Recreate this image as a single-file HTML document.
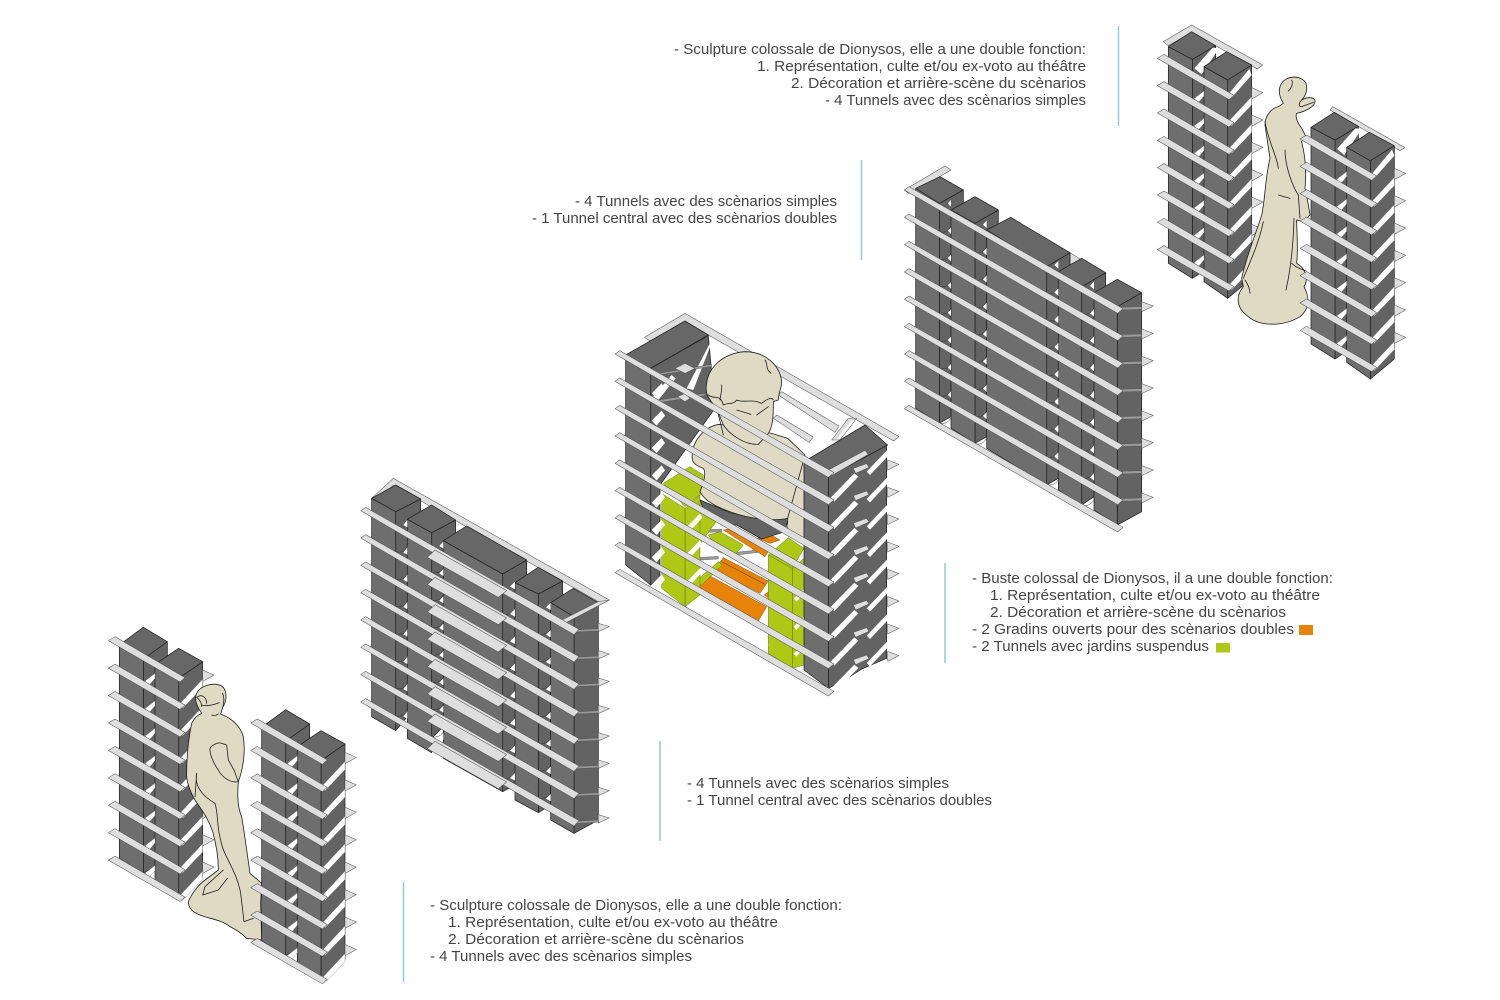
<!DOCTYPE html>
<html lang="fr">
<head>
<meta charset="utf-8">
<title>Diagramme</title>
<style>
html,body{margin:0;padding:0;background:#fff}
svg{display:block}
text{font-family:"Liberation Sans",sans-serif;font-size:15px;fill:#444}
.l{fill:#6e6e6e;stroke:#222;stroke-width:2.2;stroke-linejoin:round}
.r{fill:#636363;stroke:#222;stroke-width:2.2;stroke-linejoin:round}
.t{fill:#676767;stroke:#222;stroke-width:2.2;stroke-linejoin:round}
.s{fill:#dedede;stroke:#555;stroke-width:1.6;stroke-linejoin:round}
.w{fill:#fff;stroke:#666;stroke-width:1;stroke-linejoin:round}
.ww{fill:#fff;stroke:none}
.g{fill:#adc916;stroke:#55620c;stroke-width:1.2;stroke-linejoin:round}
.o{fill:#e8830a;stroke:#6b3c05;stroke-width:1.2;stroke-linejoin:round}
.st{fill:#dedac4;stroke:#1d1d1d;stroke-width:2.4;stroke-linejoin:round}
.n{fill:none;stroke:#1d1d1d;stroke-width:2.4;stroke-linecap:round;stroke-linejoin:round}
.h{fill:none;stroke:#2a2a2a;stroke-width:1.4}
.b{fill:#9a9a9a;stroke:#444;stroke-width:1}
</style>
</head>
<body>
<svg xmlns="http://www.w3.org/2000/svg" width="1500" height="1000" viewBox="0 0 1500 1000">
<defs>
  <!-- Towers, groups 1 and 5 -->
  <polygon id="a1" class="s" points="55,92 75,80 285,203 270,216"/>
  <g id="a2">
    <polygon class="w" points="165,131 195,108 195,123 178,143"/>
    <polygon class="s" points="338,98 372,113 338,132"/>
    <polygon class="w" points="268,200 338,125 338,150 278,213"/>
    <use href="#a1"/>
  </g>
  <g id="tower1">
    <polygon class="r" points="160,147 232,95 232,750 160,790"/>
    <polygon class="l" points="88,105 160,147 160,790 88,745"/>
    <polygon class="t" points="88,105 160,52 232,95 160,147"/>
    <polygon class="r" points="266,205 338,155 338,800 266,868"/>
    <polygon class="l" points="195,163 266,205 266,868 195,815"/>
    <polygon class="t" points="195,163 266,115 338,155 266,205"/>
    <use href="#a1"/>
    <use href="#a2" y="82.3"/>
    <use href="#a2" y="164.6"/>
    <use href="#a2" y="246.9"/>
    <use href="#a2" y="329.2"/>
    <use href="#a2" y="411.5"/>
    <use href="#a2" y="493.8"/>
    <use href="#a2" y="576.1"/>
    <use href="#a2" y="658.4"/>
  </g>
  <g id="tower5">
    <polygon class="r" points="127,133 197,92 197,745 127,790"/>
    <polygon class="l" points="55,95 127,133 127,790 55,745"/>
    <polygon class="t" points="55,95 125,50 197,92 127,133"/>
    <polygon class="ww" points="133,160 188,98 207,100 155,178"/>
    <polygon class="r" points="233,195 305,150 305,790 233,850"/>
    <polygon class="l" points="162,155 233,195 233,850 162,800"/>
    <polygon class="t" points="162,155 230,110 305,150 233,195"/>
    <polygon class="ww" points="240,232 298,162 305,180 250,242"/>
    <g transform="translate(-33,38)">
      <use href="#a1"/>
      <use href="#a2" y="82"/>
      <use href="#a2" y="164"/>
      <use href="#a2" y="246"/>
      <use href="#a2" y="328"/>
      <use href="#a2" y="410"/>
      <use href="#a2" y="492"/>
      <use href="#a2" y="574"/>
    </g>
  </g>

  <!-- Group 2 level -->
  <polygon id="b1" class="s" points="32,122 47,112 687,478 672,494"/>
  <g id="bs">
    <path class="h" d="M137,245 Q158,252 172,232 M245,308 Q265,314 280,295 M458,432 Q478,438 495,418 M565,492 Q585,498 602,478"/>
  </g>
  <g id="b2">
    <polygon class="ww" points="160,165 172,150 172,172"/>
    <polygon class="ww" points="268,228 280,215 280,236"/>
    <polygon class="ww" points="480,350 495,335 495,358"/>
    <polygon class="ww" points="588,412 602,398 602,420"/>
    <polygon class="s" points="745,460 778,470 745,485"/>
    <polygon class="b" points="672,480 745,476 745,483 680,486"/>
    <use href="#b1"/>
    <polygon class="s" points="232,262 255,240 470,362 445,382"/>
  </g>

  <!-- Group 4 level -->
  <polygon id="d1" class="s" points="28,90 42,80 684,446 668,460"/>
  <g id="d2">
    <polygon class="ww" points="158,130 168,120 168,140"/>
    <polygon class="ww" points="264,194 275,182 275,204"/>
    <polygon class="ww" points="478,315 490,303 490,326"/>
    <polygon class="ww" points="585,378 597,365 597,388"/>
    <path class="h" d="M133,215 Q155,222 168,200 M240,277 Q260,284 275,262 M455,400 Q475,406 490,386 M560,462 Q580,468 597,447"/>
    <polygon class="s" points="740,425 775,438 740,455"/>
    <polygon class="b" points="668,442 740,440 740,448 676,450"/>
    <use href="#d1"/>
  </g>

  <!-- Group 3 levels -->
  <polygon id="c1" class="s" points="30,147 44,137 687,503 670,517"/>
  <g id="c2">
    <polygon class="ww" points="140,183 170,153 180,168 155,198"/>
    <polygon class="s" points="745,408 785,394 792,405 752,423"/>
    <polygon class="ww" points="675,498 748,423 760,433 688,508"/>
    <polygon class="ww" points="785,418 848,352 848,372 795,428"/>
    <polygon class="s" points="848,383 882,396 848,413"/>
    <use href="#c1"/>
  </g>
</defs>

<!-- Teal rules -->
<g stroke="#8ccfd1" stroke-width="1.5">
  <line x1="1118.5" y1="26" x2="1118.5" y2="126"/>
  <line x1="861.5" y1="160" x2="861.5" y2="260"/>
  <line x1="945" y1="563" x2="945" y2="663"/>
  <line x1="660" y1="741" x2="660" y2="841"/>
  <line x1="403.5" y1="882" x2="403.5" y2="982"/>
</g>

<!-- Group 1 -->
<g transform="translate(90,610) scale(.33333)">
  <use href="#tower1"/>
  <path class="st" d="M335,310 C318,285 312,265 320,250 C330,228 370,215 395,228 C412,240 412,270 398,292 L392,312 C425,325 450,345 460,380 C466,420 462,470 445,515 C442,555 442,590 455,620 C462,660 470,720 480,790 L515,820 L512,880 L515,990 L470,985 C455,970 440,960 420,950 C390,925 340,925 320,910 C305,905 295,890 295,875 C305,850 325,825 345,810 L385,780 C385,740 378,700 368,665 C355,625 335,600 315,570 C300,545 288,510 290,490 C290,440 295,390 305,340 C312,325 322,315 335,310 Z"/>
  <path class="n" d="M320,262 C335,250 350,262 350,280 M335,285 C350,290 370,285 388,278 M320,262 C330,270 335,280 335,290 M398,250 C403,262 403,275 398,292 M365,315 Q375,320 385,312 M360,415 C365,405 385,395 395,400 L410,405 L415,450 L432,480 L445,515 C420,520 395,500 385,480 C370,460 358,430 360,415 M320,490 C312,530 340,560 375,580 C385,610 380,650 392,690 C400,740 440,780 452,850 L462,935 L490,925 M400,780 L345,830 L338,855 L385,840 L412,805 M320,490 L315,560"/>
  <g transform="translate(427,247)"><use href="#tower1"/></g>
</g>

<!-- Group 2 -->
<g transform="translate(350,470) scale(.33333)">
  <polygon class="s" points="65,85 130,25 778,390 640,462 632,452 745,395 130,46 75,92"/>
  <polygon class="r" points="137,125 212,87 212,140 172,170 172,740 137,782"/>
  <polygon class="l" points="65,85 137,125 137,782 65,740"/>
  <polygon class="t" points="65,85 137,45 212,87 137,125"/>
  <polygon class="r" points="245,188 317,150 317,205 280,230 280,770 245,805 245,848"/>
  <polygon class="l" points="172,148 245,188 245,848 172,805"/>
  <polygon class="t" points="172,148 245,105 317,150 245,188"/>
  <polygon class="r" points="458,312 530,270 530,320 495,350 495,945 458,965"/>
  <polygon class="l" points="280,212 458,312 458,965 280,865"/>
  <polygon class="t" points="280,212 350,168 530,270 458,312"/>
  <polygon class="r" points="565,372 638,333 638,380 602,405 602,1005 565,1028"/>
  <polygon class="l" points="495,338 565,372 565,1028 495,990"/>
  <polygon class="t" points="495,338 565,292 638,333 565,372"/>
  <polygon class="r" points="672,440 745,398 745,1050 672,1090"/>
  <polygon class="l" points="602,398 672,440 672,1090 602,1050"/>
  <polygon class="t" points="602,398 670,355 745,398 672,440"/>
  <polygon class="s" points="640,462 632,452 745,395 778,390"/>
  <use href="#bs"/><use href="#bs" y="82"/><use href="#bs" y="164"/><use href="#bs" y="246"/>
  <use href="#bs" y="328"/><use href="#bs" y="410"/><use href="#bs" y="492"/>
  <use href="#b2"/>
  <use href="#b2" y="82"/>
  <use href="#b2" y="164"/>
  <use href="#b2" y="246"/>
  <use href="#b2" y="328"/>
  <use href="#b2" y="410"/>
  <use href="#b2" y="492"/>
  <use href="#b2" y="574"/>
</g>

<!-- Group 3 -->
<g transform="translate(605,305) scale(.33333)">
  <polygon class="s" points="118,97 240,25 882,395 866,408 240,50 135,108"/>
  <polygon class="s" points="520,270 530,260 702,363 690,382"/>
  <polygon class="s" points="505,340 515,330 625,396 612,412"/>
  <polygon class="s" points="680,405 730,340 755,340 705,405"/>
  <polygon class="ww" points="696,402 738,348 748,348 705,402"/>
  <polygon class="r" points="137,190 310,92 318,180 330,310 165,540 165,820 137,840"/>
  <polygon class="l" points="62,165 137,205 137,840 62,780"/>
  <polygon class="t" points="62,150 240,48 310,90 137,190 62,165"/>
  <path class="h" d="M140,187 L305,95"/>
  <polygon class="ww" points="245,250 312,120 325,100 265,255"/>
  <polygon class="ww" points="145,275 200,210 212,220 160,285"/>
  <polygon class="b" points="160,205 320,178 320,184 165,210"/>
  <polygon class="b" points="160,285 300,265 300,272 165,292"/>
  <polygon class="s" points="210,190 240,175 270,190 240,205"/>
  <polygon class="s" points="218,275 240,265 255,280 240,290"/>
  <!-- Orange and floor -->
  <polygon class="b" points="270,675 350,672 350,680 275,684"/>
  <polygon class="b" points="270,758 340,754 340,762 275,766"/>
  <polygon class="b" points="390,742 480,733 480,740 395,750"/>
  <polygon class="o" points="355,675 370,672 490,740 480,755"/>
  <polygon class="o" points="458,700 490,685 525,705 495,715"/>
  <polygon class="o" points="355,758 490,828 465,865 328,795"/>
  <path class="h" d="M350,770 L480,838"/>
  <polygon class="o" points="310,810 485,905 460,948 280,845"/>
  <polygon class="o" points="478,870 490,860 490,880"/>
  <!-- Left green -->
  <polygon class="g" points="240,640 290,590 335,648 265,745 245,760"/>
  <polygon class="g" points="310,690 345,680 415,720 385,755 340,740"/>
  <polygon class="g" points="265,835 340,770 352,780 290,840"/>
  <polygon class="g" points="240,610 285,570 285,870 240,905"/>
  <polygon class="g" points="170,565 240,610 240,905 170,850"/>
  <polygon class="g" points="175,535 255,485 295,510 290,565 240,605"/>
  <polygon class="ww" points="247,665 285,625 292,638 258,675"/>
  <polygon class="ww" points="247,745 285,705 292,718 258,755"/>
  <polygon class="ww" points="247,828 285,790 292,800 258,838"/>
  <polygon class="ww" points="247,910 285,872 295,885 262,918"/>
  <!-- Bust -->
  <polygon class="r" points="285,585 380,625 550,640 540,680 470,702 395,660 350,660 300,625"/>
  <polygon fill="#dedac4" stroke="#1d1d1d" stroke-width="1.5" points="550,480 597,450 597,705 548,682"/>
  <path class="st" d="M262,465 C256,410 300,362 345,358 L500,385 L548,400 L600,450 L548,640 C500,650 430,640 380,622 C340,608 300,590 285,560 C296,530 305,505 295,490 C282,485 268,480 262,465 Z"/>
  <path class="st" d="M305,235 C310,190 350,145 420,140 C480,140 525,180 530,230 C530,250 520,262 520,285 L505,290 C505,330 505,365 488,388 L460,418 C420,420 375,390 355,360 L335,310 C315,285 298,270 305,235 Z"/>
  <path class="n" d="M310,270 C330,285 345,265 355,300 C372,292 385,300 395,285 C415,295 440,280 470,295 C490,280 500,275 505,285 M395,315 L438,328 M455,330 L490,305 M480,165 C490,180 480,190 498,205 M350,240 C352,260 345,275 345,285 M335,310 C345,345 350,370 355,390"/>
  <!-- Right green -->
  <polygon class="g" points="562,790 597,760 597,1080 562,1090"/>
  <polygon class="g" points="490,750 562,790 562,1090 490,1045"/>
  <polygon class="g" points="490,750 550,698 597,730 562,790"/>
  <polygon class="ww" points="566,880 597,852 597,868 574,890"/>
  <polygon class="ww" points="566,965 597,935 597,950 574,975"/>
  <polygon class="ww" points="566,1045 597,1020 597,1030 574,1055"/>
  <!-- Right block -->
  <polygon class="r" points="670,515 845,420 845,1060 770,1092 720,1125 670,1150"/>
  <polygon class="l" points="597,470 670,515 670,1150 597,1095"/>
  <polygon class="t" points="597,470 780,360 848,420 670,515"/>
  <polygon class="s" points="670,495 780,436 790,448 680,512"/>
  <polygon class="ww" points="460,1030 482,1005 490,1020 475,1040"/>
  <polygon class="ww" points="250,915 285,875 298,885 268,920"/>
  <use href="#c1"/>
  <use href="#c2" y="82"/>
  <use href="#c2" y="164"/>
  <use href="#c2" y="246"/>
  <use href="#c2" y="328"/>
  <use href="#c2" y="410"/>
  <use href="#c2" y="492"/>
  <use href="#c2" y="574"/>
  <use href="#c2" y="656"/>
</g>

<!-- Group 4 -->
<g transform="translate(895,160) scale(.33333)">
  <polygon class="s" points="28,90 150,18 168,30 65,90 40,100"/>
  <polygon class="r" points="133,130 205,90 205,145 168,170 168,770 133,790"/>
  <polygon class="l" points="62,85 133,130 133,790 62,745"/>
  <polygon class="t" points="62,85 135,50 205,90 133,130"/>
  <polygon class="r" points="240,190 310,150 310,205 275,230 275,830 240,850"/>
  <polygon class="l" points="168,150 240,190 240,850 168,805"/>
  <polygon class="t" points="168,150 240,110 310,150 240,190"/>
  <polygon class="s" points="525,278 557,298 525,314"/>
  <polygon class="r" points="455,320 525,278 525,330 490,355 490,955 455,975"/>
  <polygon class="l" points="275,210 455,320 455,975 275,865"/>
  <polygon class="t" points="275,210 347,172 525,278 455,320"/>
  <polygon class="r" points="560,380 632,338 632,385 597,410 597,1010 560,1035"/>
  <polygon class="l" points="490,335 560,380 560,1035 490,990"/>
  <polygon class="t" points="490,335 560,295 632,338 560,380"/>
  <polygon class="r" points="667,440 740,398 740,1055 667,1095"/>
  <polygon class="l" points="597,398 667,440 667,1095 597,1050"/>
  <polygon class="t" points="597,398 667,358 740,398 667,440"/>
  <polygon class="ww" points="135,790 168,772 150,800"/>
  <polygon class="ww" points="245,855 275,836 260,862"/>
  <polygon class="ww" points="460,975 490,958 478,990"/>
  <polygon class="ww" points="565,1038 595,1015 585,1050"/>
  <use href="#d2"/>
  <use href="#d2" y="82"/>
  <use href="#d2" y="164"/>
  <use href="#d2" y="246"/>
  <use href="#d2" y="328"/>
  <use href="#d2" y="410"/>
  <use href="#d2" y="492"/>
  <use href="#d2" y="574"/>
  <use href="#d1" y="656"/>
</g>

<!-- Group 5 -->
<g transform="translate(1150,15) scale(.33333)">
  <polygon class="s" points="40,80 125,30 338,150 322,162 125,52 55,92"/>
  <use href="#tower5"/>
  <path class="st" d="M395,205 C410,180 455,180 468,205 C475,225 465,245 455,255 C470,245 495,245 495,260 C495,275 465,290 440,295 C435,305 442,322 455,340 L468,365 L455,380 C465,420 470,470 465,520 L475,570 L480,600 L460,620 L440,615 C440,650 445,700 440,745 C470,760 475,800 462,815 C480,850 480,880 450,905 C400,935 330,935 295,905 C260,880 255,845 280,815 L275,790 C290,720 320,650 335,600 C345,560 345,490 360,430 L345,330 C345,300 365,280 385,275 L400,265 C385,240 385,220 395,205 Z"/>
  <path class="n" d="M425,195 C430,205 425,220 415,228 M455,255 C445,265 445,275 455,275 L490,262 M405,405 C405,450 425,510 445,540 L450,610 M385,540 L420,550 M345,320 C355,380 380,420 385,460 M340,620 C325,690 300,740 280,790 M432,610 C430,680 425,750 408,825 M425,745 C440,760 455,762 468,768 M285,795 C295,810 300,825 300,835"/>
  <g transform="translate(428,242)">
    <polygon class="s" points="112,43 120,33 337,156 322,165"/>
    <use href="#tower5"/>
  </g>
</g>

<!-- Labels -->
<g>
  <text x="674" y="54" textLength="412" lengthAdjust="spacingAndGlyphs">- Sculpture colossale de Dionysos, elle a une double fonction:</text>
  <text x="757" y="71" textLength="329" lengthAdjust="spacingAndGlyphs">1. Représentation, culte et/ou ex-voto au théâtre</text>
  <text x="791" y="88" textLength="295" lengthAdjust="spacingAndGlyphs">2. Décoration et arrière-scène du scènarios</text>
  <text x="825" y="105" textLength="261" lengthAdjust="spacingAndGlyphs">- 4 Tunnels avec des scènarios simples</text>

  <text x="575" y="206" textLength="262" lengthAdjust="spacingAndGlyphs">- 4 Tunnels avec des scènarios simples</text>
  <text x="532" y="223" textLength="305" lengthAdjust="spacingAndGlyphs">- 1 Tunnel central avec des scènarios doubles</text>

  <text x="972" y="583" textLength="361" lengthAdjust="spacingAndGlyphs">- Buste colossal de Dionysos, il a une double fonction:</text>
  <text x="990" y="600" textLength="330" lengthAdjust="spacingAndGlyphs">1. Représentation, culte et/ou ex-voto au théâtre</text>
  <text x="990" y="617" textLength="296" lengthAdjust="spacingAndGlyphs">2. Décoration et arrière-scène du scènarios</text>
  <text x="972" y="634" textLength="322" lengthAdjust="spacingAndGlyphs">- 2 Gradins ouverts pour des scènarios doubles</text>
  <text x="972" y="651" textLength="237" lengthAdjust="spacingAndGlyphs">- 2 Tunnels avec jardins suspendus</text>
  <rect x="1299" y="625" width="14" height="10" fill="#e8830a"/>
  <rect x="1216" y="643" width="14" height="9.5" fill="#adc916"/>

  <text x="687" y="788" textLength="262" lengthAdjust="spacingAndGlyphs">- 4 Tunnels avec des scènarios simples</text>
  <text x="687" y="805" textLength="305" lengthAdjust="spacingAndGlyphs">- 1 Tunnel central avec des scènarios doubles</text>

  <text x="430" y="910" textLength="412" lengthAdjust="spacingAndGlyphs">- Sculpture colossale de Dionysos, elle a une double fonction:</text>
  <text x="448" y="927" textLength="330" lengthAdjust="spacingAndGlyphs">1. Représentation, culte et/ou ex-voto au théâtre</text>
  <text x="448" y="944" textLength="296" lengthAdjust="spacingAndGlyphs">2. Décoration et arrière-scène du scènarios</text>
  <text x="430" y="961" textLength="262" lengthAdjust="spacingAndGlyphs">- 4 Tunnels avec des scènarios simples</text>
</g>
</svg>
</body>
</html>
